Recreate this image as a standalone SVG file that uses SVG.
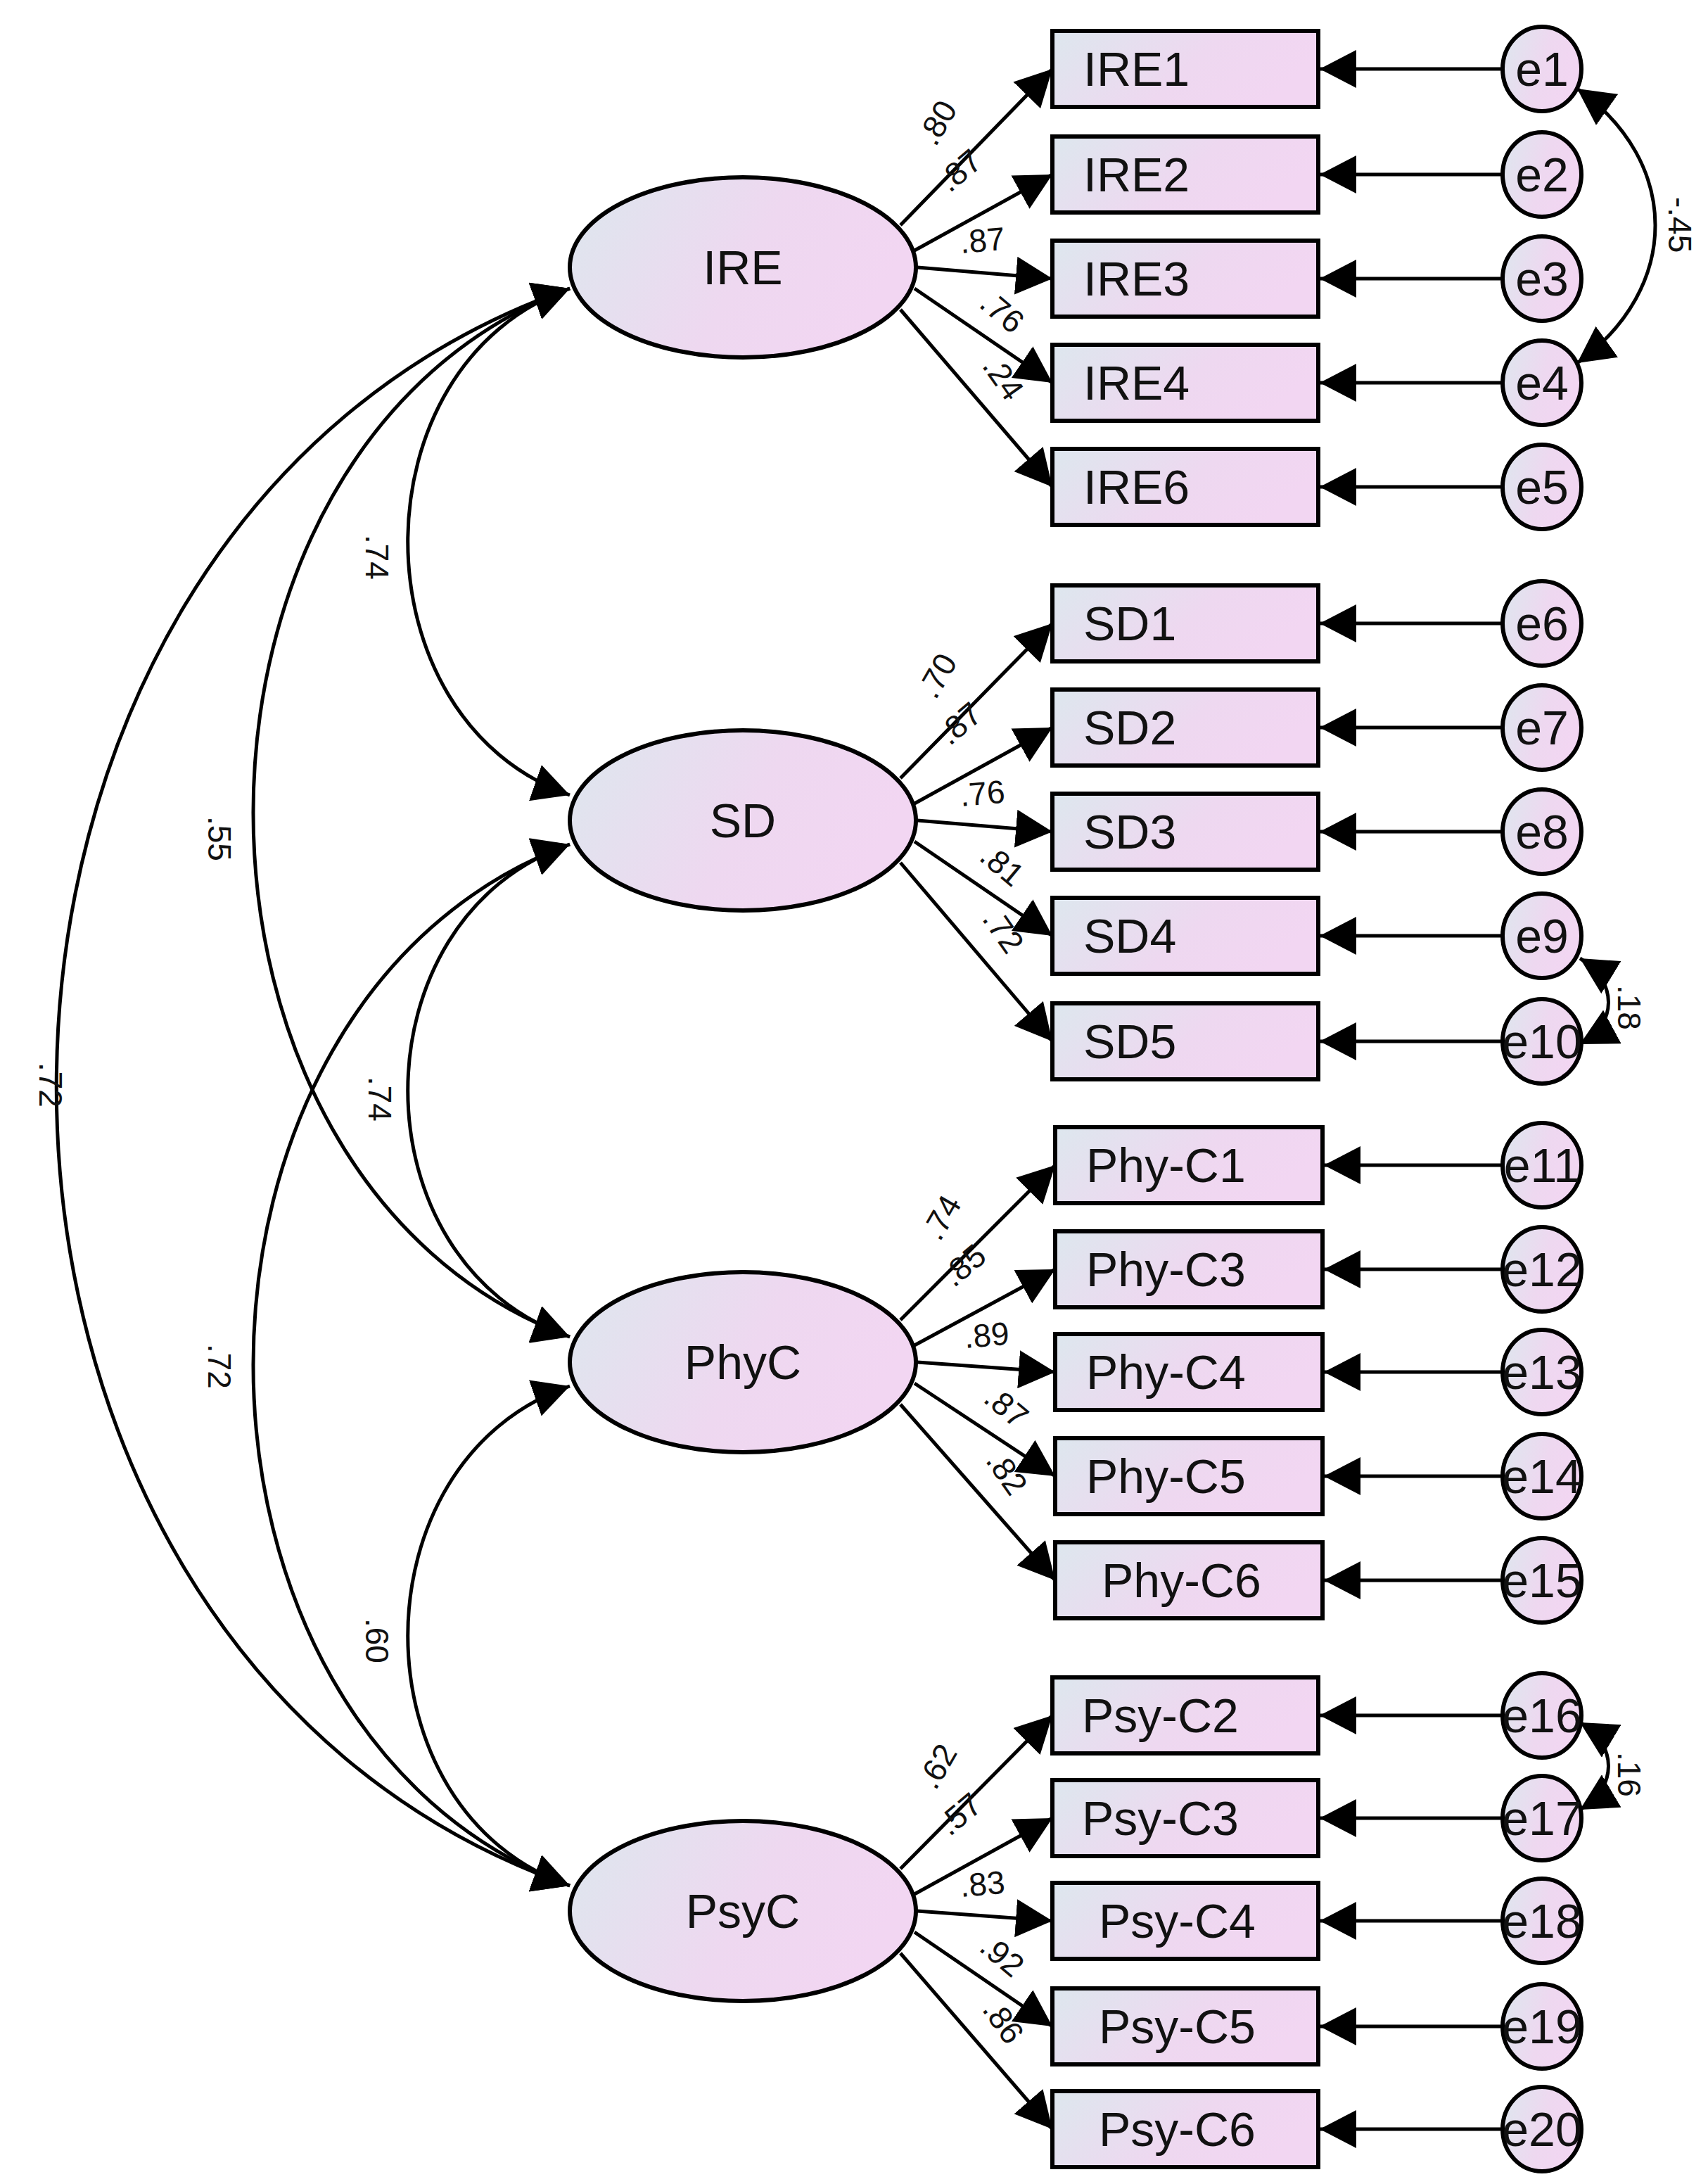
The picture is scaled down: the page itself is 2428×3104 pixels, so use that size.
<svg xmlns="http://www.w3.org/2000/svg" width="2428" height="3104" viewBox="0 0 2428 3104">
<defs>
<linearGradient id="g" x1="0" y1="0" x2="1" y2="0.3"><stop offset="0" stop-color="#dde7ee"/><stop offset="0.6" stop-color="#eed8f0"/><stop offset="1" stop-color="#f2d6f2"/></linearGradient>
<marker id="a" viewBox="0 0 52 54" markerWidth="52" markerHeight="54" refX="52" refY="27" orient="auto-start-reverse" markerUnits="userSpaceOnUse"><path d="M0,0 L52,27 L0,54 z" fill="#000"/></marker>
</defs>
<style>
.n{fill:url(#g);stroke:#000;stroke-width:6}
.t{font-family:"Liberation Sans",Arial,sans-serif;font-size:68px;fill:#111}
.l{font-family:"Liberation Sans",Arial,sans-serif;font-size:46px;fill:#111}
.c{fill:none;stroke:#000;stroke-width:5}
</style>
<rect width="2428" height="3104" fill="#fff"/>
<g id="connectors" class="c">
<path d="M810,410 C503,518 503,1022 810,1130" marker-start="url(#a)" marker-end="url(#a)"/>
<path d="M810,410 C210,633 210,1677 810,1900" marker-start="url(#a)" marker-end="url(#a)"/>
<path d="M810,410 C-163,750 -163,2340 810,2680" marker-start="url(#a)" marker-end="url(#a)"/>
<path d="M810,1200 C503,1305 503,1795 810,1900" marker-start="url(#a)" marker-end="url(#a)"/>
<path d="M810,1200 C210,1422 210,2458 810,2680" marker-start="url(#a)" marker-end="url(#a)"/>
<path d="M810,1970 C503,2076 503,2574 810,2680" marker-start="url(#a)" marker-end="url(#a)"/>
<path d="M1280,320 L1496,98" marker-end="url(#a)"/><path d="M1300,356 L1496,248" marker-end="url(#a)"/><path d="M1304,380 L1496,396" marker-end="url(#a)"/><path d="M1300,410 L1496,544" marker-end="url(#a)"/><path d="M1280,440 L1496,692" marker-end="url(#a)"/>
<path d="M1280,1106 L1496,886" marker-end="url(#a)"/><path d="M1300,1142 L1496,1034" marker-end="url(#a)"/><path d="M1304,1166 L1496,1182" marker-end="url(#a)"/><path d="M1300,1196 L1496,1330" marker-end="url(#a)"/><path d="M1280,1226 L1496,1480" marker-end="url(#a)"/>
<path d="M1280,1876 L1500,1656" marker-end="url(#a)"/><path d="M1300,1912 L1500,1804" marker-end="url(#a)"/><path d="M1304,1936 L1500,1950" marker-end="url(#a)"/><path d="M1300,1966 L1500,2098" marker-end="url(#a)"/><path d="M1280,1996 L1500,2246" marker-end="url(#a)"/>
<path d="M1280,2656 L1496,2438" marker-end="url(#a)"/><path d="M1300,2692 L1496,2584" marker-end="url(#a)"/><path d="M1304,2716 L1496,2730" marker-end="url(#a)"/><path d="M1300,2746 L1496,2880" marker-end="url(#a)"/><path d="M1280,2776 L1496,3026" marker-end="url(#a)"/>
<path d="M2136,98 H1876" marker-end="url(#a)"/><path d="M2136,248 H1876" marker-end="url(#a)"/><path d="M2136,396 H1876" marker-end="url(#a)"/><path d="M2136,544 H1876" marker-end="url(#a)"/><path d="M2136,692 H1876" marker-end="url(#a)"/>
<path d="M2136,886 H1876" marker-end="url(#a)"/><path d="M2136,1034 H1876" marker-end="url(#a)"/><path d="M2136,1182 H1876" marker-end="url(#a)"/><path d="M2136,1330 H1876" marker-end="url(#a)"/><path d="M2136,1480 H1876" marker-end="url(#a)"/>
<path d="M2136,1656 H1882" marker-end="url(#a)"/><path d="M2136,1804 H1882" marker-end="url(#a)"/><path d="M2136,1950 H1882" marker-end="url(#a)"/><path d="M2136,2098 H1882" marker-end="url(#a)"/><path d="M2136,2246 H1882" marker-end="url(#a)"/>
<path d="M2136,2438 H1876" marker-end="url(#a)"/><path d="M2136,2584 H1876" marker-end="url(#a)"/><path d="M2136,2730 H1876" marker-end="url(#a)"/><path d="M2136,2880 H1876" marker-end="url(#a)"/><path d="M2136,3026 H1876" marker-end="url(#a)"/>
<path d="M2242,126 C2390,230 2390,410 2242,516" marker-start="url(#a)" marker-end="url(#a)"/>
<path d="M2246,1362 C2300,1395 2300,1455 2246,1484" marker-start="url(#a)" marker-end="url(#a)"/>
<path d="M2246,2448 C2300,2480 2300,2540 2246,2572" marker-start="url(#a)" marker-end="url(#a)"/>
</g>
<g id="labels" class="l">
<text transform="translate(520,760) rotate(90)">.74</text>
<text transform="translate(296,1160) rotate(90)">.55</text>
<text transform="translate(56,1510) rotate(90)">.72</text>
<text transform="translate(524,1530) rotate(90)">.74</text>
<text transform="translate(296,1910) rotate(90)">.72</text>
<text transform="translate(520,2300) rotate(90)">.60</text>
<text transform="translate(2372,280) rotate(90)">-.45</text>
<text transform="translate(2300,1400) rotate(90)">.18</text>
<text transform="translate(2300,2490) rotate(90)">.16</text>
<g id="lIRE"><text transform="translate(1330,210) rotate(-60)">.80</text><text transform="translate(1350,275) rotate(-40)">.87</text><text transform="translate(1366,360) rotate(-5)">.87</text><text transform="translate(1390,435) rotate(40)">.76</text><text transform="translate(1395,520) rotate(55)">.24</text></g>
<g id="lSD"><text transform="translate(1330,996) rotate(-60)">.70</text><text transform="translate(1350,1061) rotate(-40)">.87</text><text transform="translate(1366,1146) rotate(-5)">.76</text><text transform="translate(1390,1221) rotate(40)">.81</text><text transform="translate(1395,1306) rotate(55)">.72</text></g>
<g id="lPhy"><text transform="translate(1336,1766) rotate(-60)">.74</text><text transform="translate(1356,1831) rotate(-40)">.85</text><text transform="translate(1372,1916) rotate(-5)">.89</text><text transform="translate(1396,1991) rotate(40)">.87</text><text transform="translate(1400,2076) rotate(55)">.82</text></g>
<g id="lPsy"><text transform="translate(1330,2546) rotate(-60)">.62</text><text transform="translate(1350,2611) rotate(-40)">.57</text><text transform="translate(1366,2696) rotate(-5)">.83</text><text transform="translate(1390,2771) rotate(40)">.92</text><text transform="translate(1395,2856) rotate(55)">.86</text></g>
</g>
<g class="t">
<g id="IRE"><ellipse class="n" cx="1056" cy="380" rx="246" ry="128"/><text x="1056" y="404" text-anchor="middle">IRE</text></g>
<g id="SD"><ellipse class="n" cx="1056" cy="1166" rx="246" ry="128"/><text x="1056" y="1190" text-anchor="middle">SD</text></g>
<g id="PhyC"><ellipse class="n" cx="1056" cy="1936" rx="246" ry="128"/><text x="1056" y="1960" text-anchor="middle">PhyC</text></g>
<g id="PsyC"><ellipse class="n" cx="1056" cy="2716" rx="246" ry="128"/><text x="1056" y="2740" text-anchor="middle">PsyC</text></g>
<g id="IRE1"><rect class="n" x="1496" y="44" width="378" height="108"/><text x="1540" y="122">IRE1</text></g>
<g id="IRE2"><rect class="n" x="1496" y="194" width="378" height="108"/><text x="1540" y="272">IRE2</text></g>
<g id="IRE3"><rect class="n" x="1496" y="342" width="378" height="108"/><text x="1540" y="420">IRE3</text></g>
<g id="IRE4"><rect class="n" x="1496" y="490" width="378" height="108"/><text x="1540" y="568">IRE4</text></g>
<g id="IRE6"><rect class="n" x="1496" y="638" width="378" height="108"/><text x="1540" y="716">IRE6</text></g>
<g id="SD1"><rect class="n" x="1496" y="832" width="378" height="108"/><text x="1540" y="910">SD1</text></g>
<g id="SD2"><rect class="n" x="1496" y="980" width="378" height="108"/><text x="1540" y="1058">SD2</text></g>
<g id="SD3"><rect class="n" x="1496" y="1128" width="378" height="108"/><text x="1540" y="1206">SD3</text></g>
<g id="SD4"><rect class="n" x="1496" y="1276" width="378" height="108"/><text x="1540" y="1354">SD4</text></g>
<g id="SD5"><rect class="n" x="1496" y="1426" width="378" height="108"/><text x="1540" y="1504">SD5</text></g>
<g id="Phy-C1"><rect class="n" x="1500" y="1602" width="380" height="108"/><text x="1544" y="1680">Phy-C1</text></g>
<g id="Phy-C3"><rect class="n" x="1500" y="1750" width="380" height="108"/><text x="1544" y="1828">Phy-C3</text></g>
<g id="Phy-C4"><rect class="n" x="1500" y="1896" width="380" height="108"/><text x="1544" y="1974">Phy-C4</text></g>
<g id="Phy-C5"><rect class="n" x="1500" y="2044" width="380" height="108"/><text x="1544" y="2122">Phy-C5</text></g>
<g id="Phy-C6"><rect class="n" x="1500" y="2192" width="380" height="108"/><text x="1566" y="2270">Phy-C6</text></g>
<g id="Psy-C2"><rect class="n" x="1496" y="2384" width="378" height="108"/><text x="1538" y="2462">Psy-C2</text></g>
<g id="Psy-C3"><rect class="n" x="1496" y="2530" width="378" height="108"/><text x="1538" y="2608">Psy-C3</text></g>
<g id="Psy-C4"><rect class="n" x="1496" y="2676" width="378" height="108"/><text x="1562" y="2754">Psy-C4</text></g>
<g id="Psy-C5"><rect class="n" x="1496" y="2826" width="378" height="108"/><text x="1562" y="2904">Psy-C5</text></g>
<g id="Psy-C6"><rect class="n" x="1496" y="2972" width="378" height="108"/><text x="1562" y="3050">Psy-C6</text></g>
<g id="e1"><ellipse class="n" cx="2192" cy="98" rx="56" ry="60"/><text x="2192" y="122" text-anchor="middle">e1</text></g>
<g id="e2"><ellipse class="n" cx="2192" cy="248" rx="56" ry="60"/><text x="2192" y="272" text-anchor="middle">e2</text></g>
<g id="e3"><ellipse class="n" cx="2192" cy="396" rx="56" ry="60"/><text x="2192" y="420" text-anchor="middle">e3</text></g>
<g id="e4"><ellipse class="n" cx="2192" cy="544" rx="56" ry="60"/><text x="2192" y="568" text-anchor="middle">e4</text></g>
<g id="e5"><ellipse class="n" cx="2192" cy="692" rx="56" ry="60"/><text x="2192" y="716" text-anchor="middle">e5</text></g>
<g id="e6"><ellipse class="n" cx="2192" cy="886" rx="56" ry="60"/><text x="2192" y="910" text-anchor="middle">e6</text></g>
<g id="e7"><ellipse class="n" cx="2192" cy="1034" rx="56" ry="60"/><text x="2192" y="1058" text-anchor="middle">e7</text></g>
<g id="e8"><ellipse class="n" cx="2192" cy="1182" rx="56" ry="60"/><text x="2192" y="1206" text-anchor="middle">e8</text></g>
<g id="e9"><ellipse class="n" cx="2192" cy="1330" rx="56" ry="60"/><text x="2192" y="1354" text-anchor="middle">e9</text></g>
<g id="e10"><ellipse class="n" cx="2192" cy="1480" rx="56" ry="60"/><text x="2192" y="1504" text-anchor="middle">e10</text></g>
<g id="e11"><ellipse class="n" cx="2192" cy="1656" rx="56" ry="60"/><text x="2192" y="1680" text-anchor="middle">e11</text></g>
<g id="e12"><ellipse class="n" cx="2192" cy="1804" rx="56" ry="60"/><text x="2192" y="1828" text-anchor="middle">e12</text></g>
<g id="e13"><ellipse class="n" cx="2192" cy="1950" rx="56" ry="60"/><text x="2192" y="1974" text-anchor="middle">e13</text></g>
<g id="e14"><ellipse class="n" cx="2192" cy="2098" rx="56" ry="60"/><text x="2192" y="2122" text-anchor="middle">e14</text></g>
<g id="e15"><ellipse class="n" cx="2192" cy="2246" rx="56" ry="60"/><text x="2192" y="2270" text-anchor="middle">e15</text></g>
<g id="e16"><ellipse class="n" cx="2192" cy="2438" rx="56" ry="60"/><text x="2192" y="2462" text-anchor="middle">e16</text></g>
<g id="e17"><ellipse class="n" cx="2192" cy="2584" rx="56" ry="60"/><text x="2192" y="2608" text-anchor="middle">e17</text></g>
<g id="e18"><ellipse class="n" cx="2192" cy="2730" rx="56" ry="60"/><text x="2192" y="2754" text-anchor="middle">e18</text></g>
<g id="e19"><ellipse class="n" cx="2192" cy="2880" rx="56" ry="60"/><text x="2192" y="2904" text-anchor="middle">e19</text></g>
<g id="e20"><ellipse class="n" cx="2192" cy="3026" rx="56" ry="60"/><text x="2192" y="3050" text-anchor="middle">e20</text></g>
</g>
</svg>
